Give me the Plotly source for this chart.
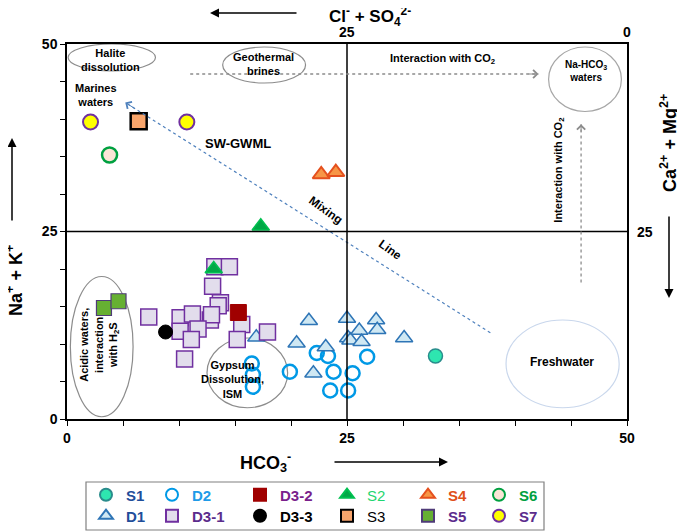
import plotly.graph_objects as go

# HCO3- (x, meq %) vs Na+ + K+ (y, meq %)
s1_x = [32.9]
s1_y = [8.4]
d1_x = [16.9, 21.6, 20.5, 23.1, 22.0, 25.0, 25.1, 25.3, 27.6, 26.1, 27.7, 26.3, 30.1]
d1_y = [10.9, 13.1, 10.1, 9.6, 6.1, 13.4, 10.8, 10.5, 13.2, 11.8, 11.9, 10.3, 10.8]
d2_x = [16.5, 16.6, 16.6, 19.9, 22.3, 23.3, 23.8, 25.5, 26.8, 23.5, 25.1]
d2_y = [7.4, 5.9, 4.3, 6.3, 8.8, 8.4, 6.3, 6.1, 8.3, 3.8, 3.8]
d31_x = [13.2, 14.5, 13.0, 13.7, 13.5, 7.3, 10.1, 11.2, 12.8, 12.9, 11.7, 10.1, 15.6, 17.9, 11.1, 15.2, 10.5]
d31_y = [20.3, 20.3, 17.7, 15.5, 15.1, 13.6, 13.5, 14.0, 13.2, 13.9, 12.0, 11.7, 12.6, 11.6, 10.6, 10.6, 8.0]
d32_x = [15.3]
d32_y = [14.2]
d33_x = [8.8]
d33_y = [11.6]
s2_x = [17.3, 13.1]
s2_y = [25.7, 20.0]
s3_x = [6.4]
s3_y = [39.7]
s4_x = [22.7, 24.0]
s4_y = [32.6, 32.9]
s5_x = [3.3, 4.6]
s5_y = [14.8, 15.7]
s6_x = [3.8]
s6_y = [35.2]
s7_x = [2.1, 10.7]
s7_y = [39.6, 39.6]

x_ticks = [0, 5, 10, 15, 20, 25, 30, 35, 40, 45, 50]
x_tick_text = ['0', '', '', '', '', '25', '', '', '', '', '50']
y_ticks = [0, 5, 10, 15, 20, 25, 30, 35, 40, 45, 50]
y_tick_text = ['0', '', '', '', '', '25', '', '', '', '', '50']

# guide lines / arrows (data units)
mixing_x = [37.8, 5.2]
mixing_y = [11.5, 42.2]
co2_h_x = [11.0, 42.1]
co2_h_y = [46.0, 46.0]
co2_v_x = [45.9, 45.9]
co2_v_y = [18.2, 39.3]

FONT = 'Liberation Sans, Arial, sans-serif'


def lab(txt, color, bold=True):
    if bold:
        txt = '<b>' + txt + '</b>'
    return '<span style="color:%s">%s</span>' % (color, txt)


fig = go.Figure()

# legend column widths (px) so columns line up like the original
cols = [21, 43, 42, 36, 26, 30]

series = [
    # x, y, name, symbol, size, fill, line color, line width, legend, column
    (d2_x, d2_y, lab('D2', '#1E9BE8'), 'circle-open', 14, '#0099E6', '#0099E6', 2.5, 'legend', 1),
    (d1_x, d1_y, lab('D1', '#1F4E9A'), 'triangle-up', 15, '#CFE8F3', '#2E75B6', 1.5, 'legend2', 0),
    (d31_x, d31_y, lab('D3-1', '#5B2C8C'), 'square', 16, '#E2DDEC', '#7030A0', 1.5, 'legend2', 1),
    (d32_x, d32_y, lab('D3-2', '#7A1F8C'), 'square', 16, '#A00000', '#A00000', 1, 'legend', 2),
    (d33_x, d33_y, lab('D3-3', '#000000'), 'circle', 14, '#000000', '#000000', 1, 'legend2', 2),
    (s1_x, s1_y, lab('S1', '#1F4E9A'), 'circle', 14, '#2EE6B0', '#2A8C8C', 1.5, 'legend', 0),
    (s2_x, s2_y, lab('S2', '#1FD670', False), 'triangle-up', 15, '#00A846', '#00C050', 1.5, 'legend', 3),
    (s3_x, s3_y, lab('S3', '#000000', False), 'square', 16, '#F8A56C', '#000000', 2.5, 'legend2', 3),
    (s4_x, s4_y, lab('S4', '#E0501A'), 'triangle-up', 15, '#F79646', '#E5501E', 2, 'legend', 4),
    (s5_x, s5_y, lab('S5', '#5B2C8C'), 'square', 15, '#66B032', '#4F3B78', 1.2, 'legend2', 4),
    (s6_x, s6_y, lab('S6', '#00A040'), 'circle', 15, '#FBE5D6', '#00A040', 2.5, 'legend', 5),
    (s7_x, s7_y, lab('S7', '#5B2C8C'), 'circle', 15, '#FFFF00', '#7030A0', 2, 'legend2', 5),
]

for xs, ys, name, sym, size, fill, lc, lw, leg, col in series:
    fig.add_trace(go.Scatter(
        x=xs, y=ys, mode='markers', name=name, legend=leg,
        legendrank=col, legendwidth=cols[col],
        marker=dict(symbol=sym, size=size, color=fill, line=dict(color=lc, width=lw)),
    ))

# mixing line (dotted blue)
fig.add_trace(go.Scatter(x=mixing_x, y=mixing_y, mode='lines', showlegend=False,
                         line=dict(color='#4F81BD', width=1.2, dash='dot'), hoverinfo='skip'))

shapes = []
# cross lines at 25
shapes.append(dict(type='line', xref='x', yref='y', x0=25, x1=25, y0=0, y1=50,
                   line=dict(color='black', width=1.5)))
shapes.append(dict(type='line', xref='x', yref='y', x0=0, x1=50, y0=25, y1=25,
                   line=dict(color='black', width=1.5)))
# dashed CO2 arrows
shapes.append(dict(type='line', xref='x', yref='y', x0=co2_h_x[0], x1=co2_h_x[1], y0=co2_h_y[0], y1=co2_h_y[1],
                   line=dict(color='#8C8C8C', width=1.3, dash='dot')))
shapes.append(dict(type='line', xref='x', yref='y', x0=co2_v_x[0], x1=co2_v_x[1], y0=co2_v_y[0], y1=co2_v_y[1],
                   line=dict(color='#8C8C8C', width=1.3, dash='dot')))

# ellipses (x0, x1, y0, y1, colour)
ellipses = [
    (0.1, 7.9, 46.4, 50.0, '#8C8C8C'),
    (13.9, 21.3, 44.8, 49.6, '#8C8C8C'),
    (43.0, 49.5, 41.0, 49.6, '#A6A6A6'),
    (0.3, 5.9, 0.3, 19.0, '#8C8C8C'),
    (12.5, 19.7, 1.5, 10.8, '#8C8C8C'),
    (39.2, 49.3, 1.5, 13.2, '#C9D7EC'),
]
for x0, x1, y0, y1, c in ellipses:
    shapes.append(dict(type='circle', xref='x', yref='y', x0=x0, x1=x1, y0=y0, y1=y1,
                       line=dict(color=c, width=1.2), layer='below'))

# legend frame
shapes.append(dict(type='rect', xref='paper', yref='paper',
                   x0=(86 - 67) / 560, x1=(544 - 67) / 560,
                   y0=(419 - 530) / 375, y1=(419 - 482) / 375,
                   line=dict(color='#808080', width=1.2)))

ann = []


def txt(x, y, t, size=11, angle=0):
    ann.append(dict(x=x, y=y, xref='x', yref='y', text=t, showarrow=False, textangle=angle,
                    xanchor='center', yanchor='middle',
                    font=dict(family=FONT, size=size, color='black', weight='bold')))


txt(3.9, 47.9, 'Halite<br>dissolution')
txt(17.5, 47.4, 'Geothermal<br>brines')
txt(33.5, 48.0, 'Interaction with CO<sub>2</sub>')
txt(46.3, 46.4, 'Na-HCO<sub>3</sub><br>waters', size=10)
txt(2.6, 43.2, 'Marines<br>waters')
txt(15.3, 36.8, 'SW-GWML', size=13)
txt(23.1, 27.9, 'Mixing', size=12, angle=36)
txt(28.9, 22.6, 'Line', size=12, angle=36)
txt(43.9, 33.2, 'Interaction with CO<sub>2</sub>', angle=-90)
txt(2.95, 9.9, 'Acidic waters,<br>interaction<br>with H<sub>2</sub>S', angle=-90)
txt(14.8, 5.3, 'Gypsum<br>Dissolution,<br>ISM')
txt(44.2, 7.6, 'Freshwater', size=12)

# arrowheads for the guide lines
ann.append(dict(x=mixing_x[1], y=mixing_y[1], ax=mixing_x[1] + 1.0, ay=mixing_y[1] - 0.94,
                xref='x', yref='y', axref='x', ayref='y', text='', showarrow=True,
                arrowhead=4, arrowsize=1.6, arrowwidth=1, arrowcolor='#4F81BD'))
ann.append(dict(x=co2_h_x[1], y=co2_h_y[1], ax=co2_h_x[1] - 1.0, ay=co2_h_y[1],
                xref='x', yref='y', axref='x', ayref='y', text='', showarrow=True,
                arrowhead=4, arrowsize=1.6, arrowwidth=1, arrowcolor='#8C8C8C'))
ann.append(dict(x=co2_v_x[1], y=co2_v_y[1], ax=co2_v_x[1], ay=co2_v_y[1] - 1.2,
                xref='x', yref='y', axref='x', ayref='y', text='', showarrow=True,
                arrowhead=4, arrowsize=1.6, arrowwidth=1, arrowcolor='#8C8C8C'))


def px(xp, yp):
    return (xp - 67) / 560, (419 - yp) / 375


def title(xp, yp, t, angle=0, size=18):
    x, y = px(xp, yp)
    ann.append(dict(x=x, y=y, xref='paper', yref='paper', text=t, showarrow=False, textangle=angle,
                    xanchor='center', yanchor='middle',
                    font=dict(family=FONT, size=size, color='black', weight='bold')))


def arrow(xh, yh, dx, dy):
    x, y = px(xh, yh)
    ann.append(dict(x=x, y=y, xref='paper', yref='paper', ax=dx, ay=dy, text='', showarrow=True,
                    arrowhead=2, arrowsize=1.2, arrowwidth=1.5, arrowcolor='black'))


title(370, 17, 'Cl<sup>-</sup> + SO<sub>4</sub><sup>2-</sup>', size=17)
arrow(210, 13, 88, 0)
title(14, 281, 'Na<sup>+</sup> + K<sup>+</sup>', angle=-90)
arrow(12, 138, 0, 84)
title(668, 143, 'Ca<sup>2+</sup> + Mg<sup>2+</sup>', angle=-90)
arrow(669, 298, 0, -83)
title(265, 462, 'HCO<sub>3</sub><sup>-</sup>')
arrow(448, 462, -115, 0)

# top / right tick labels
for xv, t in [(25, '25'), (50, '0')]:
    ann.append(dict(x=xv, y=1, xref='x', yref='paper', xanchor='center', yanchor='bottom', yshift=2,
                    text=t, showarrow=False,
                    font=dict(family=FONT, size=14, color='black', weight='bold')))
ann.append(dict(x=1, y=25, xref='paper', yref='y', xanchor='left', yanchor='middle', xshift=8,
                text='25', showarrow=False,
                font=dict(family=FONT, size=14, color='black', weight='bold')))

axis_style = dict(range=[0, 50], ticks='outside', ticklen=5, tickcolor='black', tickwidth=1.2,
                  showline=True, linecolor='black', linewidth=1.5, mirror=True,
                  showgrid=False, zeroline=False, automargin=False,
                  tickfont=dict(family=FONT, size=14, color='black', weight='bold'))
fig.update_xaxes(tickvals=x_ticks, ticktext=x_tick_text, **axis_style)
fig.update_yaxes(tickvals=y_ticks, ticktext=y_tick_text, **axis_style)

leg_common = dict(orientation='h', xanchor='left', yanchor='middle', borderwidth=0,
                  bgcolor='rgba(0,0,0,0)', itemsizing='constant', itemwidth=30,
                  traceorder='normal', font=dict(family=FONT, size=15))
# page body has an 8px margin, so the margins are offset to keep the plot where it belongs
fig.update_layout(
    width=685, height=531,
    margin=dict(l=59, r=66, t=36, b=120, autoexpand=False),
    plot_bgcolor='white', paper_bgcolor='white',
    font=dict(family=FONT, color='black'),
    showlegend=True,
    legend=dict(x=(86 - 67) / 560, y=(419 - 495) / 375, **leg_common),
    legend2=dict(x=(86 - 67) / 560, y=(419 - 516) / 375, **leg_common),
    shapes=shapes,
    annotations=ann,
)

fig.write_html("out.html")
